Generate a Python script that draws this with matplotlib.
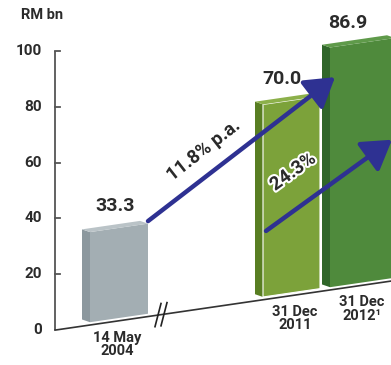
import numpy as np
import matplotlib
matplotlib.use("Agg")
import matplotlib.pyplot as plt
import matplotlib.transforms as mtransforms
import matplotlib.patheffects as pe
from matplotlib.patches import Polygon

# data
categories = ["14 May\n2004", "31 Dec\n2011", "31 Dec\n2012\u00b9"]
values = [33.3, 70.0, 86.9]
value_labels = ["33.3", "70.0", "86.9"]
yticks = [0, 20, 40, 60, 80, 100]
growth_labels = ["11.8% p.a.", "24.3%"]

front_cols = ["#a3aeb3", "#7ca23a", "#4f8a3c"]
side_cols = ["#8c989e", "#587e22", "#30662a"]
top_cols = ["#bac3c7", "#8cb04a", "#5f9a4a"]

plt.rcParams['font.family'] = ['Roboto', 'DejaVu Sans']
txt = "#2b2b2b"
navy = "#2e3192"

fig = plt.figure(figsize=(3.91, 3.65), dpi=100)
ax = fig.add_axes([0, 0, 1, 1])
ax.set_xlim(-55, 336)
ax.set_ylim(-12.5, 118.3)
ax.axis("off")

# baseline slants upwards to the right
K = 0.0523
tr = mtransforms.Affine2D().skew(0, np.arctan(K)) + ax.transData

# bar geometry (front face x-range), depth offset
xs = [(35, 93), (208, 265), (275, 340)]
dx, dv = -8, 1.4
base = 1.0

# y axis
ax.plot([0, 0], [0, 100], color="#555555", lw=1.3, solid_capstyle="butt")
for t in yticks:
    if t > 0:
        ax.plot([0, 5], [t, t], color="#555555", lw=1.3)
    ax.text(-13, t, str(t), ha="right", va="center", fontsize=11,
            color=txt, fontweight="bold")
ax.text(-13, 113, "RM bn", ha="center", va="center", fontsize=10.5,
        color=txt, fontweight="bold")

# baseline
ax.plot([0, 336], [0, 0], color="#333333", lw=1.2, transform=tr)
for bx in [103, 109]:
    ax.plot([bx - 3, bx + 3], [-4, 4], color="#222222", lw=1.2,
            transform=tr)

lab_x = [60, 227, 293]
cat_x = [62, 240, 307]
for i, v in enumerate(values):
    x0, x1 = xs[i]
    side = Polygon([(x0, base), (x0, v), (x0 + dx, v + dv),
                    (x0 + dx, base + dv)], closed=True,
                   facecolor=side_cols[i], edgecolor="none", transform=tr)
    top = Polygon([(x0, v), (x1, v), (x1 + dx, v + dv), (x0 + dx, v + dv)],
                  closed=True, facecolor=top_cols[i], edgecolor="none",
                  transform=tr)
    front = Polygon([(x0, base), (x1, base), (x1, v), (x0, v)], closed=True,
                    facecolor=front_cols[i],
                    edgecolor="white" if i == 1 else "none",
                    lw=0.8, transform=tr)
    ax.add_patch(side)
    ax.add_patch(front)
    ax.add_patch(top)
    ax.text(lab_x[i], v + 8, value_labels[i], ha="center", va="center",
            fontsize=14, color=txt, fontweight="bold", transform=tr)
    ax.text(cat_x[i], -3.5, categories[i], ha="center", va="top",
            fontsize=10.5, color=txt, fontweight="bold", linespacing=0.95,
            transform=tr)

# growth arrows
arrows = [((93, 34.2), (280, 76.0)), ((211, 24.5), (337, 50.6))]
for (s, e) in arrows:
    ax.annotate("", xy=e, xytext=s, xycoords=tr, textcoords=tr,
                arrowprops=dict(arrowstyle="-|>,head_length=0.8,head_width=0.5",
                                lw=3.2, color=navy, mutation_scale=22,
                                shrinkA=0, shrinkB=0))

stroke = [pe.withStroke(linewidth=3, foreground="white")]
ax.text(148, 56.5, growth_labels[0], ha="center", va="center", rotation=38,
        fontsize=13.5, color=txt, fontweight="bold", transform=tr,
        path_effects=stroke)
ax.text(238, 44.2, growth_labels[1], ha="center", va="center", rotation=36,
        fontsize=13.5, color=txt, fontweight="bold", transform=tr,
        path_effects=stroke)

fig.savefig("out.png", dpi=100)
